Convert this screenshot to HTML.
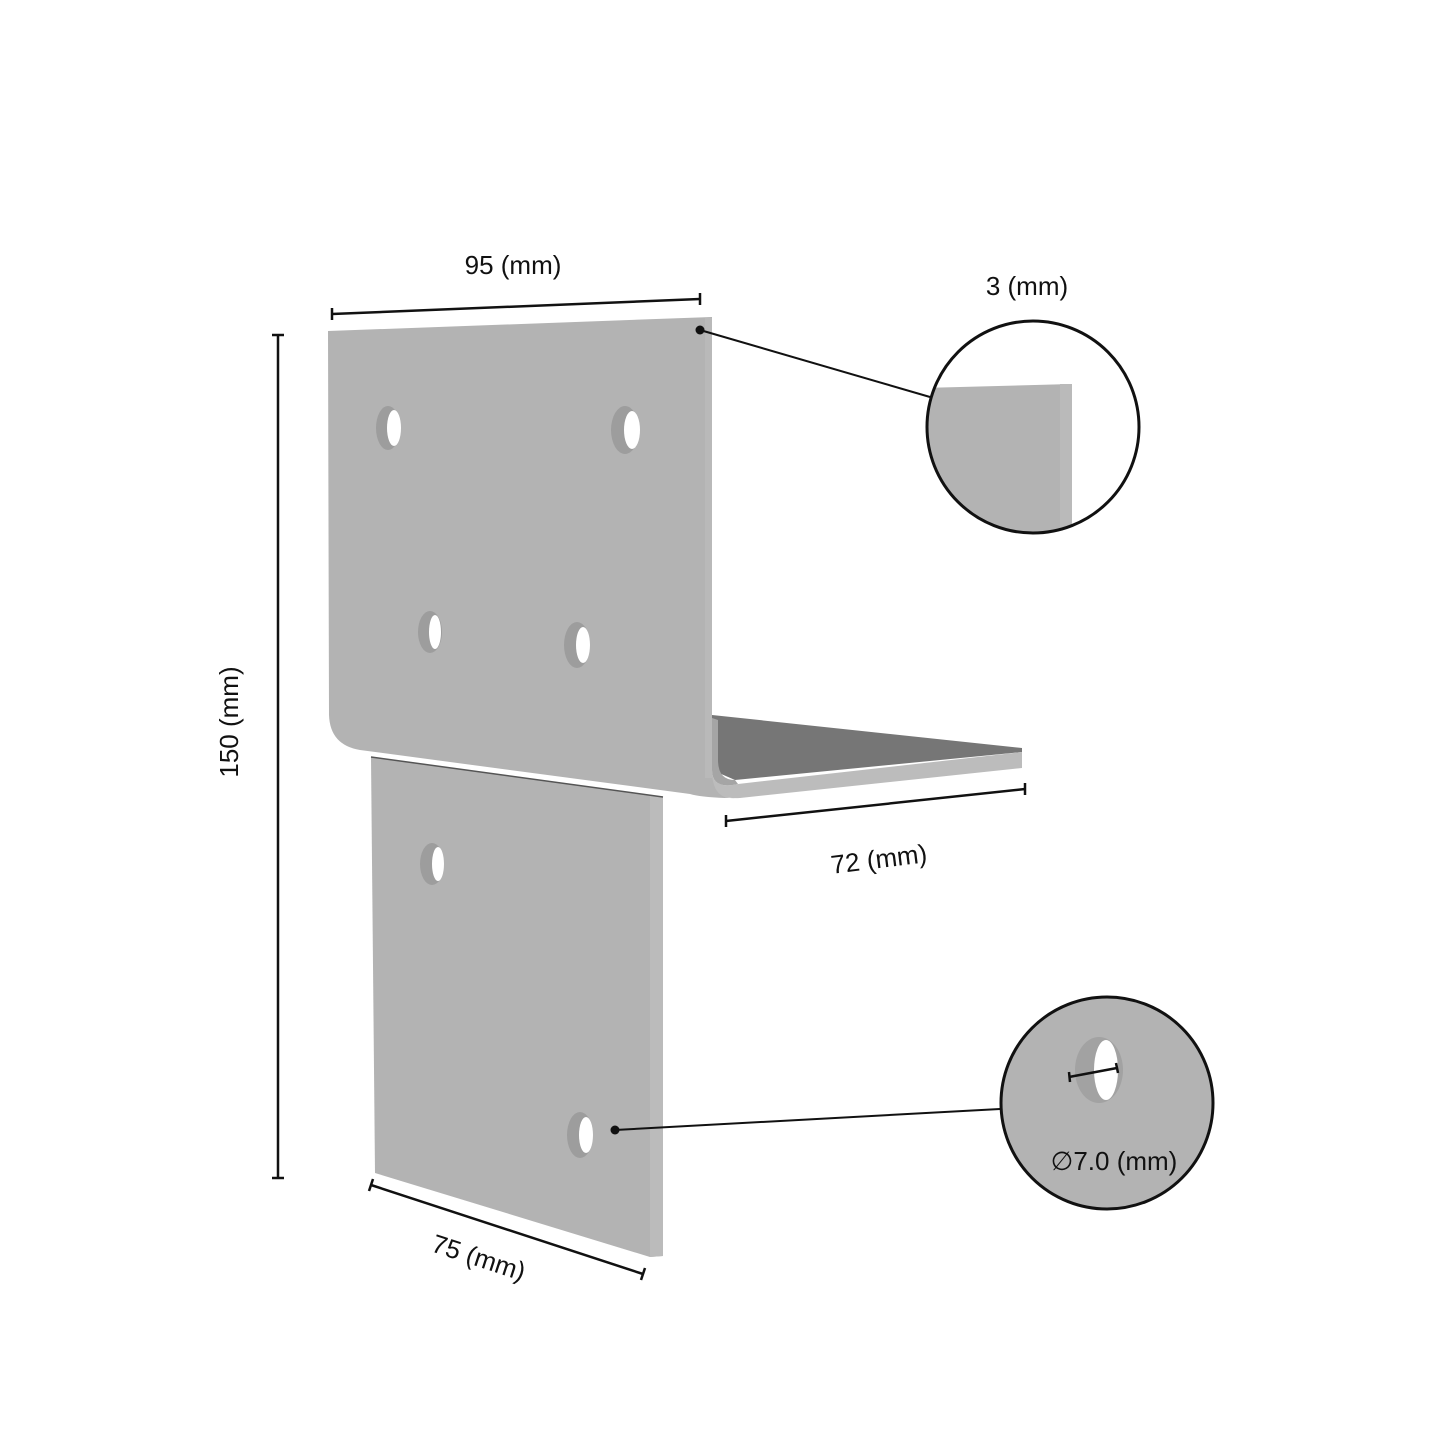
<!DOCTYPE html>
<html><head><meta charset="utf-8"><style>
html,body{margin:0;padding:0;background:#fff;}
svg{display:block}
text{font-family:"Liberation Sans",sans-serif;fill:#111;font-size:26px}
</style></head><body>
<svg width="1440" height="1440" viewBox="0 0 1440 1440" xmlns="http://www.w3.org/2000/svg">
<defs>
<clipPath id="c1"><circle cx="1033" cy="427" r="106"/></clipPath>
<clipPath id="c2"><circle cx="1107" cy="1103" r="106"/></clipPath>
</defs>
<polygon points="371,757 663,797 663,1256 650,1257 375,1173" fill="#b3b3b3"/>
<polygon points="650,796 663,797 663,1256 650,1257" fill="#bbbbbb"/>
<line x1="371" y1="757" x2="663" y2="797" stroke="#555" stroke-width="1.5"/>
<polygon points="712,715 1022,748 1022,752 735,780 712,770" fill="#767676"/>
<path d="M712,770 Q712,790 738,784 L1022,752 L1022,768 L740,798 Q705,800 700,770 Z" fill="#bcbcbc"/>
<path d="M328,331 L712,317 L712,770 Q712,800 735,798 L725,798 Q700,797 690,794 L360,750 Q330,745 329,715 Z" fill="#b3b3b3"/>
<rect x="705" y="318" width="7" height="460" fill="#b9b9b9"/>
<path d="M712,718 L712,770 Q712,790 738,784 L735,780 Q718,780 718,760 L718,720Z" fill="#a5a5a5"/>
<g>
<ellipse cx="388" cy="428" rx="12" ry="22" fill="#9d9d9d"/><ellipse cx="394" cy="428" rx="7" ry="18" fill="#fff"/>
<ellipse cx="625" cy="430" rx="14" ry="24" fill="#9d9d9d"/><ellipse cx="632" cy="430" rx="8" ry="19" fill="#fff"/>
<ellipse cx="430" cy="632" rx="12" ry="21" fill="#9d9d9d"/><ellipse cx="435" cy="632" rx="6" ry="17" fill="#fff"/>
<ellipse cx="577" cy="645" rx="13" ry="23" fill="#9d9d9d"/><ellipse cx="583" cy="645" rx="7" ry="18" fill="#fff"/>
<ellipse cx="432" cy="864" rx="12" ry="21" fill="#9d9d9d"/><ellipse cx="438" cy="864" rx="6" ry="17" fill="#fff"/>
<ellipse cx="580" cy="1135" rx="13" ry="23" fill="#9d9d9d"/><ellipse cx="586" cy="1135" rx="7" ry="18" fill="#fff"/>
</g>
<g stroke="#111" stroke-width="2.5" fill="none">
<line x1="332" y1="314" x2="700" y2="299"/><line x1="332" y1="308" x2="332" y2="320"/><line x1="700" y1="293" x2="700" y2="305"/>
<line x1="278" y1="335" x2="278" y2="1178"/><line x1="272" y1="335" x2="284" y2="335"/><line x1="272" y1="1178" x2="284" y2="1178"/>
<line x1="726" y1="821" x2="1025" y2="789"/><line x1="726" y1="815" x2="726" y2="827"/><line x1="1025" y1="783" x2="1025" y2="795"/>
<line x1="371" y1="1185" x2="643" y2="1274"/><line x1="373" y1="1179" x2="369" y2="1191"/><line x1="645" y1="1268" x2="641" y2="1280"/>
<line x1="700" y1="330" x2="930" y2="397" stroke-width="2"/>
<line x1="615" y1="1130" x2="1000" y2="1109" stroke-width="2"/>
</g>
<circle cx="700" cy="330" r="4.5" fill="#111"/>
<circle cx="615" cy="1130" r="4.5" fill="#111"/>
<g clip-path="url(#c1)">
<rect x="920" y="310" width="240" height="240" fill="#fff"/>
<polygon points="920,388 1072,384 1072,540 920,540" fill="#b3b3b3"/>
<rect x="1060" y="384" width="12" height="160" fill="#bababa"/>
</g>
<circle cx="1033" cy="427" r="106" fill="none" stroke="#111" stroke-width="3"/>
<g clip-path="url(#c2)">
<rect x="990" y="990" width="240" height="240" fill="#b3b3b3"/>
<ellipse cx="1099" cy="1070" rx="24" ry="33" fill="#a2a2a2"/>
<ellipse cx="1106" cy="1070" rx="12" ry="30" fill="#fff"/>
</g>
<circle cx="1107" cy="1103" r="106" fill="none" stroke="#111" stroke-width="3"/>
<g stroke="#111" stroke-width="2.5"><line x1="1069" y1="1077" x2="1117" y2="1068"/><line x1="1069" y1="1072" x2="1070" y2="1082"/><line x1="1116" y1="1063" x2="1118" y2="1073"/></g>
<text x="513" y="274" text-anchor="middle">95 (mm)</text>
<text x="1027" y="295" text-anchor="middle">3 (mm)</text>
<text x="1114" y="1170" text-anchor="middle">∅7.0 (mm)</text>
<text transform="translate(238,722) rotate(-90)" text-anchor="middle">150 (mm)</text>
<text transform="translate(880,868) rotate(-7)" text-anchor="middle">72 (mm)</text>
<text transform="translate(476,1266) rotate(18)" text-anchor="middle">75 (mm)</text>
</svg>
</body></html>
